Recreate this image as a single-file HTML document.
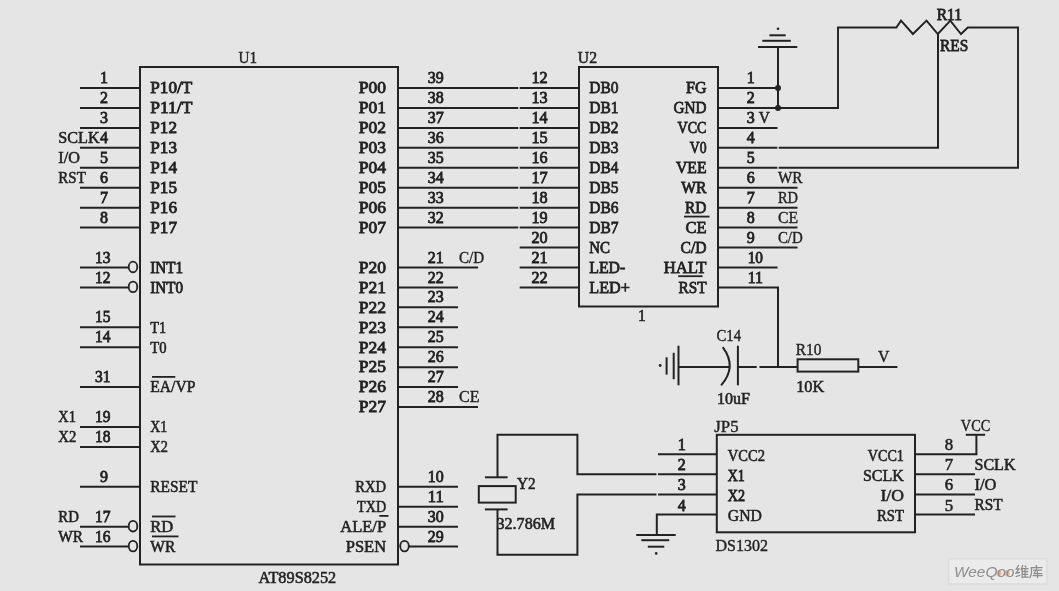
<!DOCTYPE html>
<html><head><meta charset="utf-8"><style>
html,body{margin:0;padding:0;background:#e5e5e5;}
svg{display:block;filter:blur(0.3px);}
text{font-family:"Liberation Serif",serif;font-size:15px;fill:#222222;stroke:none;}
.b{font-weight:normal;stroke:#222222;stroke-width:0.75px;}
.m{font-weight:normal;stroke:#222222;stroke-width:0.5px;}
.s{font-weight:normal;stroke:#222222;stroke-width:0.7px;}
.r{font-weight:normal;stroke:#222222;stroke-width:0.35px;}
.wm{font-family:"Liberation Sans",sans-serif;font-style:italic;font-size:15px;fill:#8e8e8e;stroke:none;}
</style></head><body>
<svg width="1059" height="591" viewBox="0 0 1059 591" stroke="#222222" stroke-linecap="butt" stroke-linejoin="miter">
<rect x="0" y="0" width="1059" height="591" fill="#e5e5e5" stroke="none"/>
<rect x="140" y="67" width="258" height="497.5" fill="none" stroke-width="2"/>
<text class="r" transform="translate(238.5,63.1) scale(1,1.1)" textLength="18.6" lengthAdjust="spacingAndGlyphs">U1</text>
<text class="m" transform="translate(258.5,582.5) scale(1,1.1)" textLength="77.7" lengthAdjust="spacingAndGlyphs">AT89S8252</text>
<line x1="80" y1="88.0" x2="140" y2="88.0" stroke-width="2"/>
<text class="b" transform="translate(100.0,83.1) scale(1,1.1)" textLength="8.0" lengthAdjust="spacingAndGlyphs">1</text>
<text class="b" transform="translate(150.3,93.3) scale(1,1.1)" textLength="42.0" lengthAdjust="spacingAndGlyphs">P10/T</text>
<line x1="80" y1="107.94" x2="140" y2="107.94" stroke-width="2"/>
<text class="b" transform="translate(100.0,103.0) scale(1,1.1)" textLength="8.0" lengthAdjust="spacingAndGlyphs">2</text>
<text class="b" transform="translate(150.3,113.2) scale(1,1.1)" textLength="42.0" lengthAdjust="spacingAndGlyphs">P11/T</text>
<line x1="80" y1="127.88" x2="140" y2="127.88" stroke-width="2"/>
<text class="b" transform="translate(100.0,122.9) scale(1,1.1)" textLength="8.0" lengthAdjust="spacingAndGlyphs">3</text>
<text class="b" transform="translate(150.3,133.1) scale(1,1.1)" textLength="26.7" lengthAdjust="spacingAndGlyphs">P12</text>
<line x1="80" y1="147.82" x2="140" y2="147.82" stroke-width="2"/>
<text class="b" transform="translate(100.0,142.9) scale(1,1.1)" textLength="8.0" lengthAdjust="spacingAndGlyphs">4</text>
<text class="b" transform="translate(150.3,153.1) scale(1,1.1)" textLength="26.7" lengthAdjust="spacingAndGlyphs">P13</text>
<line x1="80" y1="167.76" x2="140" y2="167.76" stroke-width="2"/>
<text class="b" transform="translate(100.0,162.8) scale(1,1.1)" textLength="8.0" lengthAdjust="spacingAndGlyphs">5</text>
<text class="b" transform="translate(150.3,173.0) scale(1,1.1)" textLength="26.7" lengthAdjust="spacingAndGlyphs">P14</text>
<line x1="80" y1="187.7" x2="140" y2="187.7" stroke-width="2"/>
<text class="b" transform="translate(100.0,182.8) scale(1,1.1)" textLength="8.0" lengthAdjust="spacingAndGlyphs">6</text>
<text class="b" transform="translate(150.3,193.0) scale(1,1.1)" textLength="26.7" lengthAdjust="spacingAndGlyphs">P15</text>
<line x1="80" y1="207.64" x2="140" y2="207.64" stroke-width="2"/>
<text class="b" transform="translate(100.0,202.7) scale(1,1.1)" textLength="8.0" lengthAdjust="spacingAndGlyphs">7</text>
<text class="b" transform="translate(150.3,212.9) scale(1,1.1)" textLength="26.7" lengthAdjust="spacingAndGlyphs">P16</text>
<line x1="80" y1="227.58" x2="140" y2="227.58" stroke-width="2"/>
<text class="b" transform="translate(100.0,222.6) scale(1,1.1)" textLength="8.0" lengthAdjust="spacingAndGlyphs">8</text>
<text class="b" transform="translate(150.3,232.8) scale(1,1.1)" textLength="26.7" lengthAdjust="spacingAndGlyphs">P17</text>
<line x1="80" y1="267.46" x2="128.5" y2="267.46" stroke-width="2"/>
<ellipse cx="133" cy="266.96" rx="4.3" ry="5.3" fill="none" stroke-width="1.8"/>
<text class="b" transform="translate(95.0,262.5) scale(1,1.1)" textLength="15.5" lengthAdjust="spacingAndGlyphs">13</text>
<text class="b" transform="translate(150.3,272.7) scale(1,1.1)" textLength="32.7" lengthAdjust="spacingAndGlyphs">INT1</text>
<line x1="80" y1="287.4" x2="128.5" y2="287.4" stroke-width="2"/>
<ellipse cx="133" cy="286.9" rx="4.3" ry="5.3" fill="none" stroke-width="1.8"/>
<text class="b" transform="translate(95.0,282.5) scale(1,1.1)" textLength="15.5" lengthAdjust="spacingAndGlyphs">12</text>
<text class="b" transform="translate(150.3,292.7) scale(1,1.1)" textLength="32.7" lengthAdjust="spacingAndGlyphs">INT0</text>
<line x1="80" y1="327.28" x2="140" y2="327.28" stroke-width="2"/>
<text class="b" transform="translate(95.0,322.3) scale(1,1.1)" textLength="15.5" lengthAdjust="spacingAndGlyphs">15</text>
<text class="m" transform="translate(150.3,332.5) scale(1,1.1)" textLength="15.8" lengthAdjust="spacingAndGlyphs">T1</text>
<line x1="80" y1="347.22" x2="140" y2="347.22" stroke-width="2"/>
<text class="b" transform="translate(95.0,342.3) scale(1,1.1)" textLength="15.5" lengthAdjust="spacingAndGlyphs">14</text>
<text class="m" transform="translate(150.3,352.5) scale(1,1.1)" textLength="16.3" lengthAdjust="spacingAndGlyphs">T0</text>
<line x1="80" y1="387.1" x2="140" y2="387.1" stroke-width="2"/>
<text class="b" transform="translate(95.0,382.2) scale(1,1.1)" textLength="15.5" lengthAdjust="spacingAndGlyphs">31</text>
<text class="m" transform="translate(150.3,392.4) scale(1,1.1)" textLength="45.0" lengthAdjust="spacingAndGlyphs">EA/VP</text>
<line x1="80" y1="426.98" x2="140" y2="426.98" stroke-width="2"/>
<text class="b" transform="translate(95.0,422.0) scale(1,1.1)" textLength="15.5" lengthAdjust="spacingAndGlyphs">19</text>
<text class="m" transform="translate(150.3,432.2) scale(1,1.1)" textLength="17.0" lengthAdjust="spacingAndGlyphs">X1</text>
<line x1="80" y1="446.92" x2="140" y2="446.92" stroke-width="2"/>
<text class="b" transform="translate(95.0,442.0) scale(1,1.1)" textLength="15.5" lengthAdjust="spacingAndGlyphs">18</text>
<text class="m" transform="translate(150.3,452.2) scale(1,1.1)" textLength="17.5" lengthAdjust="spacingAndGlyphs">X2</text>
<line x1="80" y1="486.8" x2="140" y2="486.8" stroke-width="2"/>
<text class="b" transform="translate(100.0,481.9) scale(1,1.1)" textLength="8.0" lengthAdjust="spacingAndGlyphs">9</text>
<text class="m" transform="translate(150.3,492.1) scale(1,1.1)" textLength="47.0" lengthAdjust="spacingAndGlyphs">RESET</text>
<line x1="80" y1="526.68" x2="128.5" y2="526.68" stroke-width="2"/>
<ellipse cx="133" cy="526.18" rx="4.3" ry="5.3" fill="none" stroke-width="1.8"/>
<text class="b" transform="translate(95.0,521.7) scale(1,1.1)" textLength="15.5" lengthAdjust="spacingAndGlyphs">17</text>
<text class="m" transform="translate(150.3,531.9) scale(1,1.1)" textLength="23.0" lengthAdjust="spacingAndGlyphs">RD</text>
<line x1="80" y1="546.62" x2="128.5" y2="546.62" stroke-width="2"/>
<ellipse cx="133" cy="546.12" rx="4.3" ry="5.3" fill="none" stroke-width="1.8"/>
<text class="b" transform="translate(95.0,541.7) scale(1,1.1)" textLength="15.5" lengthAdjust="spacingAndGlyphs">16</text>
<text class="m" transform="translate(150.3,551.9) scale(1,1.1)" textLength="25.0" lengthAdjust="spacingAndGlyphs">WR</text>
<text class="m" transform="translate(58.3,142.9) scale(1,1.1)" textLength="41.4" lengthAdjust="spacingAndGlyphs">SCLK</text>
<text class="m" transform="translate(58.3,162.8) scale(1,1.1)" textLength="21.6" lengthAdjust="spacingAndGlyphs">I/O</text>
<text class="m" transform="translate(58.3,182.8) scale(1,1.1)" textLength="27.5" lengthAdjust="spacingAndGlyphs">RST</text>
<text class="m" transform="translate(58.3,422.0) scale(1,1.1)" textLength="17.5" lengthAdjust="spacingAndGlyphs">X1</text>
<text class="m" transform="translate(58.3,442.0) scale(1,1.1)" textLength="18.0" lengthAdjust="spacingAndGlyphs">X2</text>
<text class="m" transform="translate(58.3,521.7) scale(1,1.1)" textLength="20.6" lengthAdjust="spacingAndGlyphs">RD</text>
<text class="m" transform="translate(58.3,541.7) scale(1,1.1)" textLength="24.8" lengthAdjust="spacingAndGlyphs">WR</text>
<line x1="152" y1="376.90000000000003" x2="175.3" y2="376.90000000000003" stroke-width="1.8"/>
<line x1="152" y1="516.4799999999999" x2="175.5" y2="516.4799999999999" stroke-width="1.8"/>
<line x1="152" y1="536.42" x2="178.5" y2="536.42" stroke-width="1.8"/>
<line x1="398" y1="88.0" x2="518.3" y2="88.0" stroke-width="2"/>
<text class="b" transform="translate(427.7,83.1) scale(1,1.1)" textLength="16.0" lengthAdjust="spacingAndGlyphs">39</text>
<text class="b" transform="translate(358.8,93.3) scale(1,1.1)" textLength="27.3" lengthAdjust="spacingAndGlyphs">P00</text>
<line x1="398" y1="107.94" x2="518.3" y2="107.94" stroke-width="2"/>
<text class="b" transform="translate(427.7,103.0) scale(1,1.1)" textLength="16.0" lengthAdjust="spacingAndGlyphs">38</text>
<text class="b" transform="translate(358.8,113.2) scale(1,1.1)" textLength="27.3" lengthAdjust="spacingAndGlyphs">P01</text>
<line x1="398" y1="127.88" x2="518.3" y2="127.88" stroke-width="2"/>
<text class="b" transform="translate(427.7,122.9) scale(1,1.1)" textLength="16.0" lengthAdjust="spacingAndGlyphs">37</text>
<text class="b" transform="translate(358.8,133.1) scale(1,1.1)" textLength="27.3" lengthAdjust="spacingAndGlyphs">P02</text>
<line x1="398" y1="147.82" x2="518.3" y2="147.82" stroke-width="2"/>
<text class="b" transform="translate(427.7,142.9) scale(1,1.1)" textLength="16.0" lengthAdjust="spacingAndGlyphs">36</text>
<text class="b" transform="translate(358.8,153.1) scale(1,1.1)" textLength="27.3" lengthAdjust="spacingAndGlyphs">P03</text>
<line x1="398" y1="167.76" x2="518.3" y2="167.76" stroke-width="2"/>
<text class="b" transform="translate(427.7,162.8) scale(1,1.1)" textLength="16.0" lengthAdjust="spacingAndGlyphs">35</text>
<text class="b" transform="translate(358.8,173.0) scale(1,1.1)" textLength="27.3" lengthAdjust="spacingAndGlyphs">P04</text>
<line x1="398" y1="187.7" x2="518.3" y2="187.7" stroke-width="2"/>
<text class="b" transform="translate(427.7,182.8) scale(1,1.1)" textLength="16.0" lengthAdjust="spacingAndGlyphs">34</text>
<text class="b" transform="translate(358.8,193.0) scale(1,1.1)" textLength="27.3" lengthAdjust="spacingAndGlyphs">P05</text>
<line x1="398" y1="207.64" x2="518.3" y2="207.64" stroke-width="2"/>
<text class="b" transform="translate(427.7,202.7) scale(1,1.1)" textLength="16.0" lengthAdjust="spacingAndGlyphs">33</text>
<text class="b" transform="translate(358.8,212.9) scale(1,1.1)" textLength="27.3" lengthAdjust="spacingAndGlyphs">P06</text>
<line x1="398" y1="227.58" x2="518.3" y2="227.58" stroke-width="2"/>
<text class="b" transform="translate(427.7,222.6) scale(1,1.1)" textLength="16.0" lengthAdjust="spacingAndGlyphs">32</text>
<text class="b" transform="translate(358.8,232.8) scale(1,1.1)" textLength="27.3" lengthAdjust="spacingAndGlyphs">P07</text>
<line x1="398" y1="267.46" x2="478" y2="267.46" stroke-width="2"/>
<text class="b" transform="translate(427.7,262.5) scale(1,1.1)" textLength="16.0" lengthAdjust="spacingAndGlyphs">21</text>
<text class="b" transform="translate(358.8,272.7) scale(1,1.1)" textLength="27.3" lengthAdjust="spacingAndGlyphs">P20</text>
<line x1="398" y1="287.4" x2="458" y2="287.4" stroke-width="2"/>
<text class="b" transform="translate(427.7,282.5) scale(1,1.1)" textLength="16.0" lengthAdjust="spacingAndGlyphs">22</text>
<text class="b" transform="translate(358.8,292.7) scale(1,1.1)" textLength="27.3" lengthAdjust="spacingAndGlyphs">P21</text>
<line x1="398" y1="307.34" x2="458" y2="307.34" stroke-width="2"/>
<text class="b" transform="translate(427.7,302.4) scale(1,1.1)" textLength="16.0" lengthAdjust="spacingAndGlyphs">23</text>
<text class="b" transform="translate(358.8,312.6) scale(1,1.1)" textLength="27.3" lengthAdjust="spacingAndGlyphs">P22</text>
<line x1="398" y1="327.28" x2="458" y2="327.28" stroke-width="2"/>
<text class="b" transform="translate(427.7,322.3) scale(1,1.1)" textLength="16.0" lengthAdjust="spacingAndGlyphs">24</text>
<text class="b" transform="translate(358.8,332.5) scale(1,1.1)" textLength="27.3" lengthAdjust="spacingAndGlyphs">P23</text>
<line x1="398" y1="347.22" x2="458" y2="347.22" stroke-width="2"/>
<text class="b" transform="translate(427.7,342.3) scale(1,1.1)" textLength="16.0" lengthAdjust="spacingAndGlyphs">25</text>
<text class="b" transform="translate(358.8,352.5) scale(1,1.1)" textLength="27.3" lengthAdjust="spacingAndGlyphs">P24</text>
<line x1="398" y1="367.16" x2="458" y2="367.16" stroke-width="2"/>
<text class="b" transform="translate(427.7,362.2) scale(1,1.1)" textLength="16.0" lengthAdjust="spacingAndGlyphs">26</text>
<text class="b" transform="translate(358.8,372.4) scale(1,1.1)" textLength="27.3" lengthAdjust="spacingAndGlyphs">P25</text>
<line x1="398" y1="387.1" x2="458" y2="387.1" stroke-width="2"/>
<text class="b" transform="translate(427.7,382.2) scale(1,1.1)" textLength="16.0" lengthAdjust="spacingAndGlyphs">27</text>
<text class="b" transform="translate(358.8,392.4) scale(1,1.1)" textLength="27.3" lengthAdjust="spacingAndGlyphs">P26</text>
<line x1="398" y1="407.04" x2="478" y2="407.04" stroke-width="2"/>
<text class="b" transform="translate(427.7,402.1) scale(1,1.1)" textLength="16.0" lengthAdjust="spacingAndGlyphs">28</text>
<text class="b" transform="translate(358.8,412.3) scale(1,1.1)" textLength="27.3" lengthAdjust="spacingAndGlyphs">P27</text>
<line x1="398" y1="486.8" x2="458" y2="486.8" stroke-width="2"/>
<text class="b" transform="translate(427.7,481.9) scale(1,1.1)" textLength="16.0" lengthAdjust="spacingAndGlyphs">10</text>
<text class="m" transform="translate(355.2,492.1) scale(1,1.1)" textLength="30.9" lengthAdjust="spacingAndGlyphs">RXD</text>
<line x1="398" y1="506.74" x2="458" y2="506.74" stroke-width="2"/>
<text class="b" transform="translate(427.7,501.8) scale(1,1.1)" textLength="16.0" lengthAdjust="spacingAndGlyphs">11</text>
<text class="m" transform="translate(357.1,512.0) scale(1,1.1)" textLength="29.0" lengthAdjust="spacingAndGlyphs">TXD</text>
<line x1="398" y1="526.68" x2="458" y2="526.68" stroke-width="2"/>
<text class="b" transform="translate(427.7,521.7) scale(1,1.1)" textLength="16.0" lengthAdjust="spacingAndGlyphs">30</text>
<text class="m" transform="translate(340.2,531.9) scale(1,1.1)" textLength="45.9" lengthAdjust="spacingAndGlyphs">ALE/P</text>
<ellipse cx="404.5" cy="546.12" rx="4.3" ry="5.3" fill="none" stroke-width="1.8"/>
<line x1="408.8" y1="546.62" x2="458" y2="546.62" stroke-width="2"/>
<text class="b" transform="translate(427.7,541.7) scale(1,1.1)" textLength="16.0" lengthAdjust="spacingAndGlyphs">29</text>
<text class="m" transform="translate(345.7,551.9) scale(1,1.1)" textLength="40.4" lengthAdjust="spacingAndGlyphs">PSEN</text>
<text class="r" transform="translate(459.0,262.5) scale(1,1.1)" textLength="25.2" lengthAdjust="spacingAndGlyphs">C/D</text>
<text class="r" transform="translate(459.0,402.1) scale(1,1.1)" textLength="20.5" lengthAdjust="spacingAndGlyphs">CE</text>
<line x1="379.3" y1="515.88" x2="388.5" y2="515.88" stroke-width="1.8"/>
<rect x="579" y="67" width="139" height="239.5" fill="none" stroke-width="2"/>
<text class="m" transform="translate(577.8,62.8) scale(1,1.1)" textLength="19.2" lengthAdjust="spacingAndGlyphs">U2</text>
<text class="m" transform="translate(638.0,320.5) scale(1,1.1)" textLength="7.8" lengthAdjust="spacingAndGlyphs">1</text>
<line x1="519.7" y1="88.0" x2="579" y2="88.0" stroke-width="2"/>
<text class="b" transform="translate(531.5,83.1) scale(1,1.1)" textLength="16.2" lengthAdjust="spacingAndGlyphs">12</text>
<text class="s" transform="translate(589.3,93.3) scale(1,1.1)" textLength="29.3" lengthAdjust="spacingAndGlyphs">DB0</text>
<line x1="519.7" y1="107.94" x2="579" y2="107.94" stroke-width="2"/>
<text class="b" transform="translate(531.5,103.0) scale(1,1.1)" textLength="16.2" lengthAdjust="spacingAndGlyphs">13</text>
<text class="s" transform="translate(589.3,113.2) scale(1,1.1)" textLength="29.3" lengthAdjust="spacingAndGlyphs">DB1</text>
<line x1="519.7" y1="127.88" x2="579" y2="127.88" stroke-width="2"/>
<text class="b" transform="translate(531.5,122.9) scale(1,1.1)" textLength="16.2" lengthAdjust="spacingAndGlyphs">14</text>
<text class="s" transform="translate(589.3,133.1) scale(1,1.1)" textLength="29.3" lengthAdjust="spacingAndGlyphs">DB2</text>
<line x1="519.7" y1="147.82" x2="579" y2="147.82" stroke-width="2"/>
<text class="b" transform="translate(531.5,142.9) scale(1,1.1)" textLength="16.2" lengthAdjust="spacingAndGlyphs">15</text>
<text class="s" transform="translate(589.3,153.1) scale(1,1.1)" textLength="29.3" lengthAdjust="spacingAndGlyphs">DB3</text>
<line x1="519.7" y1="167.76" x2="579" y2="167.76" stroke-width="2"/>
<text class="b" transform="translate(531.5,162.8) scale(1,1.1)" textLength="16.2" lengthAdjust="spacingAndGlyphs">16</text>
<text class="s" transform="translate(589.3,173.0) scale(1,1.1)" textLength="29.3" lengthAdjust="spacingAndGlyphs">DB4</text>
<line x1="519.7" y1="187.7" x2="579" y2="187.7" stroke-width="2"/>
<text class="b" transform="translate(531.5,182.8) scale(1,1.1)" textLength="16.2" lengthAdjust="spacingAndGlyphs">17</text>
<text class="s" transform="translate(589.3,193.0) scale(1,1.1)" textLength="29.3" lengthAdjust="spacingAndGlyphs">DB5</text>
<line x1="519.7" y1="207.64" x2="579" y2="207.64" stroke-width="2"/>
<text class="b" transform="translate(531.5,202.7) scale(1,1.1)" textLength="16.2" lengthAdjust="spacingAndGlyphs">18</text>
<text class="s" transform="translate(589.3,212.9) scale(1,1.1)" textLength="29.3" lengthAdjust="spacingAndGlyphs">DB6</text>
<line x1="519.7" y1="227.58" x2="579" y2="227.58" stroke-width="2"/>
<text class="b" transform="translate(531.5,222.6) scale(1,1.1)" textLength="16.2" lengthAdjust="spacingAndGlyphs">19</text>
<text class="s" transform="translate(589.3,232.8) scale(1,1.1)" textLength="29.3" lengthAdjust="spacingAndGlyphs">DB7</text>
<line x1="519.7" y1="247.52" x2="579" y2="247.52" stroke-width="2"/>
<text class="b" transform="translate(531.5,242.6) scale(1,1.1)" textLength="16.2" lengthAdjust="spacingAndGlyphs">20</text>
<text class="s" transform="translate(589.3,252.8) scale(1,1.1)" textLength="20.8" lengthAdjust="spacingAndGlyphs">NC</text>
<line x1="519.7" y1="267.46" x2="579" y2="267.46" stroke-width="2"/>
<text class="b" transform="translate(531.5,262.5) scale(1,1.1)" textLength="16.2" lengthAdjust="spacingAndGlyphs">21</text>
<text class="s" transform="translate(589.3,272.7) scale(1,1.1)" textLength="36.0" lengthAdjust="spacingAndGlyphs">LED-</text>
<line x1="519.7" y1="287.4" x2="579" y2="287.4" stroke-width="2"/>
<text class="b" transform="translate(531.5,282.5) scale(1,1.1)" textLength="16.2" lengthAdjust="spacingAndGlyphs">22</text>
<text class="s" transform="translate(589.3,292.7) scale(1,1.1)" textLength="40.6" lengthAdjust="spacingAndGlyphs">LED+</text>
<line x1="718" y1="88.0" x2="777.5" y2="88.0" stroke-width="2"/>
<text class="b" transform="translate(746.8,83.1) scale(1,1.1)" textLength="8.0" lengthAdjust="spacingAndGlyphs">1</text>
<text class="s" transform="translate(686.0,93.3) scale(1,1.1)" textLength="20.5" lengthAdjust="spacingAndGlyphs">FG</text>
<line x1="718" y1="107.94" x2="839" y2="107.94" stroke-width="2"/>
<text class="b" transform="translate(746.8,103.0) scale(1,1.1)" textLength="8.0" lengthAdjust="spacingAndGlyphs">2</text>
<text class="s" transform="translate(673.5,113.2) scale(1,1.1)" textLength="33.0" lengthAdjust="spacingAndGlyphs">GND</text>
<line x1="718" y1="127.88" x2="777.5" y2="127.88" stroke-width="2"/>
<text class="b" transform="translate(746.8,122.9) scale(1,1.1)" textLength="8.0" lengthAdjust="spacingAndGlyphs">3</text>
<text class="s" transform="translate(677.5,133.1) scale(1,1.1)" textLength="29.0" lengthAdjust="spacingAndGlyphs">VCC</text>
<line x1="718" y1="147.82" x2="777.3" y2="147.82" stroke-width="2"/>
<line x1="778.7" y1="147.82" x2="939" y2="147.82" stroke-width="2"/>
<text class="b" transform="translate(746.8,142.9) scale(1,1.1)" textLength="8.0" lengthAdjust="spacingAndGlyphs">4</text>
<text class="s" transform="translate(689.7,153.1) scale(1,1.1)" textLength="16.8" lengthAdjust="spacingAndGlyphs">V0</text>
<line x1="718" y1="167.76" x2="777.3" y2="167.76" stroke-width="2"/>
<line x1="778.7" y1="167.76" x2="1019" y2="167.76" stroke-width="2"/>
<text class="b" transform="translate(746.8,162.8) scale(1,1.1)" textLength="8.0" lengthAdjust="spacingAndGlyphs">5</text>
<text class="s" transform="translate(675.9,173.0) scale(1,1.1)" textLength="30.6" lengthAdjust="spacingAndGlyphs">VEE</text>
<line x1="718" y1="187.7" x2="797.5" y2="187.7" stroke-width="2"/>
<text class="b" transform="translate(746.8,182.8) scale(1,1.1)" textLength="8.0" lengthAdjust="spacingAndGlyphs">6</text>
<text class="s" transform="translate(681.2,193.0) scale(1,1.1)" textLength="25.3" lengthAdjust="spacingAndGlyphs">WR</text>
<line x1="718" y1="207.64" x2="797.5" y2="207.64" stroke-width="2"/>
<text class="b" transform="translate(746.8,202.7) scale(1,1.1)" textLength="8.0" lengthAdjust="spacingAndGlyphs">7</text>
<text class="s" transform="translate(685.1,212.9) scale(1,1.1)" textLength="21.4" lengthAdjust="spacingAndGlyphs">RD</text>
<line x1="718" y1="227.58" x2="797.5" y2="227.58" stroke-width="2"/>
<text class="b" transform="translate(746.8,222.6) scale(1,1.1)" textLength="8.0" lengthAdjust="spacingAndGlyphs">8</text>
<text class="s" transform="translate(685.4,232.8) scale(1,1.1)" textLength="21.1" lengthAdjust="spacingAndGlyphs">CE</text>
<line x1="718" y1="247.52" x2="797.5" y2="247.52" stroke-width="2"/>
<text class="b" transform="translate(746.8,242.6) scale(1,1.1)" textLength="8.0" lengthAdjust="spacingAndGlyphs">9</text>
<text class="s" transform="translate(680.5,252.8) scale(1,1.1)" textLength="26.0" lengthAdjust="spacingAndGlyphs">C/D</text>
<line x1="718" y1="267.46" x2="777.5" y2="267.46" stroke-width="2"/>
<text class="b" transform="translate(747.7,262.5) scale(1,1.1)" textLength="15.3" lengthAdjust="spacingAndGlyphs">10</text>
<text class="s" transform="translate(663.7,272.7) scale(1,1.1)" textLength="42.8" lengthAdjust="spacingAndGlyphs">HALT</text>
<polyline points="718,287.4 778,287.4 778,367.16" fill="none" stroke-width="2"/>
<text class="b" transform="translate(747.7,282.5) scale(1,1.1)" textLength="15.3" lengthAdjust="spacingAndGlyphs">11</text>
<text class="s" transform="translate(678.5,292.7) scale(1,1.1)" textLength="28.0" lengthAdjust="spacingAndGlyphs">RST</text>
<text class="m" transform="translate(758.8,122.9) scale(1,1.1)" textLength="11.1" lengthAdjust="spacingAndGlyphs">V</text>
<text class="r" transform="translate(777.9,182.8) scale(1,1.1)" textLength="24.6" lengthAdjust="spacingAndGlyphs">WR</text>
<text class="r" transform="translate(777.9,202.7) scale(1,1.1)" textLength="20.1" lengthAdjust="spacingAndGlyphs">RD</text>
<text class="r" transform="translate(777.9,222.6) scale(1,1.1)" textLength="20.1" lengthAdjust="spacingAndGlyphs">CE</text>
<text class="r" transform="translate(777.9,242.6) scale(1,1.1)" textLength="24.9" lengthAdjust="spacingAndGlyphs">C/D</text>
<line x1="684" y1="216.58" x2="709.5" y2="216.58" stroke-width="1.8"/>
<line x1="678.2" y1="276.2" x2="702.5" y2="276.2" stroke-width="1.8"/>
<line x1="778" y1="46.9" x2="778" y2="107.94" stroke-width="2"/>
<line x1="758" y1="46.9" x2="797.3" y2="46.9" stroke-width="2"/>
<line x1="762.3" y1="40.8" x2="790.8" y2="40.8" stroke-width="2"/>
<line x1="769.4" y1="35.3" x2="785.7" y2="35.3" stroke-width="2"/>
<circle cx="778" cy="28.8" r="1.3" fill="#222222" stroke-width="0"/>
<circle cx="778" cy="88.0" r="3" fill="#222222" stroke-width="0"/>
<circle cx="778" cy="107.94" r="3" fill="#222222" stroke-width="0"/>
<polyline points="838,107.94 838,27.5 896.4,27.5 901,20.6 912.9,34 926.5,20.6 937.8,34 950.3,20.6 961,34 967.8,27.5 1018,27.5 1018,167.76" fill="none" stroke-width="1.9"/>
<line x1="938" y1="34" x2="938" y2="147.82" stroke-width="2"/>
<text class="s" transform="translate(936.7,20.2) scale(1,1.1)" textLength="25.4" lengthAdjust="spacingAndGlyphs">R11</text>
<text class="s" transform="translate(940.1,51.1) scale(1,1.1)" textLength="28.2" lengthAdjust="spacingAndGlyphs">RES</text>
<line x1="678.5" y1="345.7" x2="678.5" y2="385.3" stroke-width="2"/>
<line x1="673.7" y1="352.8" x2="673.7" y2="379.2" stroke-width="2"/>
<line x1="666.6" y1="357.3" x2="666.6" y2="374.6" stroke-width="2"/>
<circle cx="660.2" cy="365.5" r="1.4" fill="#222222" stroke-width="0"/>
<line x1="678.5" y1="367" x2="729.5" y2="367" stroke-width="2"/>
<path d="M722.7,347.2 Q737.5,367 721.1,385.3" fill="none" stroke-width="2"/>
<line x1="737.9" y1="345.7" x2="737.9" y2="385.3" stroke-width="2"/>
<line x1="737.9" y1="367" x2="756.7" y2="367" stroke-width="2"/>
<line x1="759.5" y1="367" x2="797.6" y2="367" stroke-width="2"/>
<rect x="797.6" y="359.3" width="60.7" height="12.3" fill="none" stroke-width="2"/>
<line x1="858.3" y1="367" x2="897.4" y2="367" stroke-width="2"/>
<text class="r" transform="translate(716.5,341.0) scale(1,1.1)" textLength="24.6" lengthAdjust="spacingAndGlyphs">C14</text>
<text class="m" transform="translate(716.9,403.9) scale(1,1.1)" textLength="33.1" lengthAdjust="spacingAndGlyphs">10uF</text>
<text class="r" transform="translate(795.8,354.8) scale(1,1.1)" textLength="25.6" lengthAdjust="spacingAndGlyphs">R10</text>
<text class="m" transform="translate(796.2,391.6) scale(1,1.1)" textLength="28.0" lengthAdjust="spacingAndGlyphs">10K</text>
<text class="r" transform="translate(878.0,362.3) scale(1,1.1)" textLength="11.4" lengthAdjust="spacingAndGlyphs">V</text>
<polyline points="656.5,474.2 577.4,474.2 577.4,434.8 497.5,434.8 497.5,477.3" fill="none" stroke-width="2"/>
<line x1="484.9" y1="477.3" x2="507.6" y2="477.3" stroke-width="2"/>
<rect x="478.8" y="486.1" width="36.9" height="16.5" fill="none" stroke-width="2"/>
<line x1="484.9" y1="509.4" x2="507.6" y2="509.4" stroke-width="2"/>
<polyline points="497.5,509.4 497.5,554.8 577.4,554.8 577.4,494.4 656.5,494.4" fill="none" stroke-width="2"/>
<text class="m" transform="translate(516.9,488.5) scale(1,1.1)" textLength="18.6" lengthAdjust="spacingAndGlyphs">Y2</text>
<text class="m" transform="translate(496.5,529.1) scale(1,1.1)" textLength="58.6" lengthAdjust="spacingAndGlyphs">32.786M</text>
<rect x="716.8" y="434.8" width="198.20000000000005" height="97.49999999999994" fill="none" stroke-width="2"/>
<text class="r" transform="translate(714.3,431.5) scale(1,1.1)" textLength="24.2" lengthAdjust="spacingAndGlyphs">JP5</text>
<text class="r" transform="translate(715.5,550.5) scale(1,1.1)" textLength="52.5" lengthAdjust="spacingAndGlyphs">DS1302</text>
<line x1="658" y1="454.3" x2="716.8" y2="454.3" stroke-width="2"/>
<text class="b" transform="translate(677.7,450.2) scale(1,1.1)" textLength="8.0" lengthAdjust="spacingAndGlyphs">1</text>
<text class="m" transform="translate(727.8,460.8) scale(1,1.1)" textLength="37.2" lengthAdjust="spacingAndGlyphs">VCC2</text>
<line x1="658" y1="474.3" x2="716.8" y2="474.3" stroke-width="2"/>
<text class="b" transform="translate(677.7,470.2) scale(1,1.1)" textLength="8.0" lengthAdjust="spacingAndGlyphs">2</text>
<text class="b" transform="translate(727.8,480.8) scale(1,1.1)" textLength="16.9" lengthAdjust="spacingAndGlyphs">X1</text>
<line x1="658" y1="494.4" x2="716.8" y2="494.4" stroke-width="2"/>
<text class="b" transform="translate(677.7,490.3) scale(1,1.1)" textLength="8.0" lengthAdjust="spacingAndGlyphs">3</text>
<text class="b" transform="translate(727.8,500.9) scale(1,1.1)" textLength="17.3" lengthAdjust="spacingAndGlyphs">X2</text>
<polyline points="716.8,514.6 656.8,514.6 656.8,535" fill="none" stroke-width="2"/>
<text class="b" transform="translate(677.7,510.5) scale(1,1.1)" textLength="8.0" lengthAdjust="spacingAndGlyphs">4</text>
<text class="m" transform="translate(727.8,521.1) scale(1,1.1)" textLength="34.1" lengthAdjust="spacingAndGlyphs">GND</text>
<line x1="636.2" y1="535" x2="675.7" y2="535" stroke-width="2"/>
<line x1="641.3" y1="540.2" x2="669.2" y2="540.2" stroke-width="2"/>
<line x1="647.8" y1="546.7" x2="664.3" y2="546.7" stroke-width="2"/>
<circle cx="656.2" cy="553.4" r="1.3" fill="#222222" stroke-width="0"/>
<polyline points="915,454.3 976.4,454.3 976.4,434.8" fill="none" stroke-width="2"/>
<line x1="965.8" y1="434.8" x2="985.1" y2="434.8" stroke-width="2"/>
<text class="m" transform="translate(944.7,450.2) scale(1,1.1)" textLength="8.4" lengthAdjust="spacingAndGlyphs">8</text>
<text class="m" transform="translate(867.8,460.6) scale(1,1.1)" textLength="36.1" lengthAdjust="spacingAndGlyphs">VCC1</text>
<line x1="915" y1="474.3" x2="975" y2="474.3" stroke-width="2"/>
<text class="m" transform="translate(974.5,469.8) scale(1,1.1)" textLength="41.0" lengthAdjust="spacingAndGlyphs">SCLK</text>
<text class="m" transform="translate(944.7,470.2) scale(1,1.1)" textLength="8.4" lengthAdjust="spacingAndGlyphs">7</text>
<text class="m" transform="translate(862.9,480.6) scale(1,1.1)" textLength="41.0" lengthAdjust="spacingAndGlyphs">SCLK</text>
<line x1="915" y1="494.4" x2="975" y2="494.4" stroke-width="2"/>
<text class="m" transform="translate(974.5,489.9) scale(1,1.1)" textLength="21.9" lengthAdjust="spacingAndGlyphs">I/O</text>
<text class="m" transform="translate(944.7,490.3) scale(1,1.1)" textLength="8.4" lengthAdjust="spacingAndGlyphs">6</text>
<text class="m" transform="translate(880.4,500.7) scale(1,1.1)" textLength="23.5" lengthAdjust="spacingAndGlyphs">I/O</text>
<line x1="915" y1="514.6" x2="975" y2="514.6" stroke-width="2"/>
<text class="m" transform="translate(974.5,510.1) scale(1,1.1)" textLength="28.0" lengthAdjust="spacingAndGlyphs">RST</text>
<text class="m" transform="translate(944.7,510.5) scale(1,1.1)" textLength="8.4" lengthAdjust="spacingAndGlyphs">5</text>
<text class="m" transform="translate(876.9,520.9) scale(1,1.1)" textLength="27.0" lengthAdjust="spacingAndGlyphs">RST</text>
<text class="r" transform="translate(960.8,430.7) scale(1,1.1)" textLength="29.5" lengthAdjust="spacingAndGlyphs">VCC</text>
<rect x="948.9" y="558.9" width="98" height="25" fill="#ebebeb" stroke="#d5d8dc" stroke-width="1"/>
<ellipse cx="998.8" cy="573.2" rx="2.6" ry="3.2" fill="#e8b898" stroke="none"/>
<ellipse cx="1007" cy="573.2" rx="2.6" ry="3.2" fill="#e8b898" stroke="none"/>
<text class="wm" x="954" y="576.6" textLength="60.5" lengthAdjust="spacingAndGlyphs">WeeQoo</text>
<g fill="none" stroke="#8e8e8e" stroke-width="1.3" stroke-linecap="round" transform="translate(1015.5,565.5)"><path d="M3,0 L0.8,3.6 L3.4,3.4 L0.6,7.6 L4,7 M0.6,11 L4.2,9.8"/><path d="M7.2,0 L5.6,4.2 M6.6,2.8 V12 M9.6,0.2 L10.4,1.6 M6.6,3.2 H12.6 M9.6,3.2 V11.6 M6.6,6 H12.2 M6.6,8.8 H12.2 M6.6,11.6 H12.8"/></g>
<g fill="none" stroke="#8e8e8e" stroke-width="1.3" stroke-linecap="round" transform="translate(1029.5,565.5)"><path d="M6.6,0 L7.2,1.6 M1.6,2.2 H12.6 M2,2.2 V7 Q2,10 0.4,12"/><path d="M4,4.6 H12 M7.2,3.2 L4.6,8.2 H12.4 M8,6 V12.2 M3.6,10.2 H12.8"/></g>
</svg></body></html>
